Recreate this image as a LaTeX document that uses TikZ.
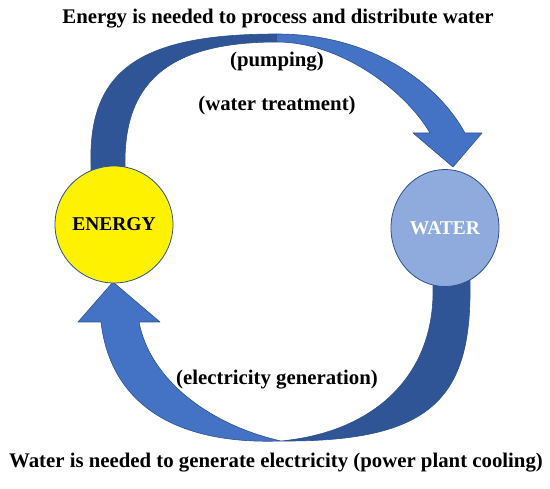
\documentclass[tikz,border=0pt]{standalone}
\usepackage{fontspec}
\setmainfont{Liberation Serif}
\usetikzlibrary{shapes.geometric}
\definecolor{darkband}{HTML}{2F5597}
\definecolor{lightband}{HTML}{4472C4}
\definecolor{edgeblue}{HTML}{2F528F}
\definecolor{waterfill}{HTML}{8FAADC}
\begin{document}
\begin{tikzpicture}[x=1pt,y=-1pt,
  outline/.style={draw=edgeblue, line width=0.6pt, line join=round},
  blob/.style={ellipse, draw=edgeblue, line width=0.8pt, minimum width=108pt, minimum height=117pt, inner sep=0pt,
    font=\fontsize{19.5}{22}\selectfont\bfseries},
  lbl/.style={font=\fontsize{20.8}{24}\selectfont\bfseries, inner sep=0pt, anchor=base}]
\useasboundingbox (0,0) rectangle (550,489);
% ---- top curved arrow (energy -> water)
\fill[darkband] (91,200) -- (91,165) .. controls (88,70) and (140,34) .. (277,34)
  -- (277,42) .. controls (165,42) and (124,85) .. (125,165) -- (125,200) -- cycle;
\fill[lightband] (277,34) .. controls (370,34) and (437,82) .. (465,133)
  -- (482,133) -- (453,167) -- (413,133) -- (430,133)
  .. controls (405,90) and (340,42) .. (277,42) -- cycle;
\draw[outline] (91,200) -- (91,165) .. controls (88,70) and (140,34) .. (277,34)
  .. controls (370,34) and (437,82) .. (465,133)
  -- (482,133) -- (453,167) -- (413,133) -- (430,133)
  .. controls (405,90) and (340,42) .. (277,42)
  .. controls (165,42) and (124,85) .. (125,165) -- (125,200);
% ---- bottom curved arrow (water -> energy)
\fill[lightband] (113,282) -- (78,322) -- (101,322)
  .. controls (110,400) and (170,445) .. (281,441)
  .. controls (210,425) and (150,380) .. (139,322) -- (160,322) -- cycle;
\fill[darkband] (281,441) .. controls (430,442) and (472,400) .. (470,283)
  -- (470,250) -- (433,250) -- (433,287)
  .. controls (435,375) and (375,432) .. (281,441) -- cycle;
\draw[outline] (470,250) -- (470,283) .. controls (472,400) and (430,442) .. (281,441)
  .. controls (170,445) and (110,400) .. (101,322)
  -- (78,322) -- (113,282) -- (160,322) -- (139,322)
  .. controls (150,380) and (210,425) .. (281,441)
  .. controls (375,432) and (435,375) .. (433,287) -- (433,250);
% ---- circles
\node[blob, fill=yellow, text=black] (energy) at (114,224.5) {ENERGY};
\node[blob, fill=waterfill, text=white] (water) at (445,228) {WATER};
% ---- labels
\node[lbl] (toptext) at (278,24) {Energy is needed to process and distribute water};
\node[lbl] (pumping) at (277,67) {(pumping)};
\node[lbl] (treat) at (277,111) {(water treatment)};
\node[lbl] (elec) at (277,385) {(electricity generation)};
\node[lbl] (bottext) at (276,468) {Water is needed to generate electricity (power plant cooling)};
\end{tikzpicture}
\end{document}
